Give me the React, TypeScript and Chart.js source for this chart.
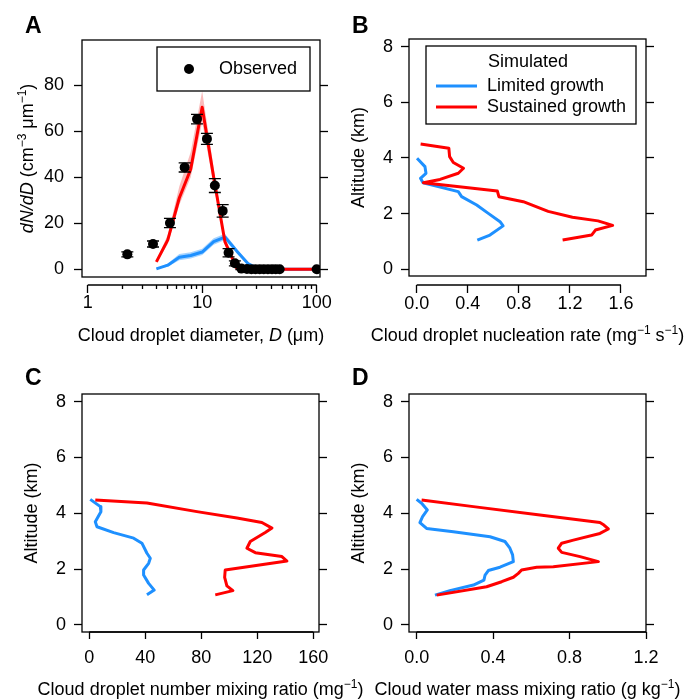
import React, { useEffect, useRef } from 'react';
import { Chart, registerables } from 'chart.js';

Chart.register(...registerables);

const FONT = "'Liberation Sans', Arial, Helvetica, sans-serif";
const PAGE_W = 684;
const PAGE_H = 699;
const RED = '#ff0000';
const BLUE = '#1e90ff';
const PINK = 'rgba(240,50,50,0.33)';
const LIGHT_BLUE = 'rgba(30,144,255,0.4)';
const LW = 1.3;
const W_L = 60;
const W_R = 12;
const H_B = 40;
const CAP = 6;

// ===== Panel A: droplet size distribution =====
const OBS_D = [2.22, 3.72, 5.23, 7.03, 9.01, 11.0, 12.9, 15.1, 17.0, 19.3, 22.0, 24.6, 26.9, 29.2, 31.8, 34.5, 37.5, 40.7, 43.9, 47.5, 100];
const OBS_N = [6.5, 11.0, 20.1, 44.3, 65.3, 56.7, 36.4, 25.4, 7.2, 2.6, 0.3, 0.1, 0, 0, 0, 0, 0, 0, 0, 0, 0];
const OBS_ERR = [1.1, 1.3, 2.0, 2.0, 2.1, 2.4, 3.0, 2.7, 1.8, 1.1, 0.4, 0.2, 0, 0, 0, 0, 0, 0, 0, 0, 0];
const SIM_D = [3.98, 5.01, 6.31, 7.94, 10.0, 12.6, 15.8, 20.0, 25.1, 31.6, 39.8, 50.1, 63.1, 79.4, 100];
const SUS_N = [3.2, 12.8, 31.0, 43.5, 70.5, 40.0, 12.0, 0.5, 0, 0, 0, 0, 0, 0, 0];
const SUS_LO = [2.6, 11.0, 28.0, 40.0, 64.0, 36.5, 10.5, 0.3, 0, 0, 0, 0, 0, 0, 0];
const SUS_HI = [3.8, 15.0, 36.0, 51.0, 77.5, 44.0, 13.5, 0.8, 0, 0, 0, 0, 0, 0, 0];
const LIM_N = [0.2, 1.8, 5.2, 6.0, 7.5, 12.0, 14.0, 8.0, 2.5, 0, 0, 0, 0, 0, 0];
const LIM_LO = [0.1, 1.1, 3.9, 4.7, 6.2, 10.7, 12.7, 7.0, 2.0, 0, 0, 0, 0, 0, 0];
const LIM_HI = [0.3, 2.5, 6.7, 7.4, 8.9, 13.5, 15.4, 9.0, 3.0, 0, 0, 0, 0, 0, 0];
const A_X_TICKS = [1, 10, 100];
const A_X_MINOR = [2, 3, 4, 5, 6, 7, 8, 9, 20, 30, 40, 50, 60, 70, 80, 90];
const A_Y_TICKS = [0, 20, 40, 60, 80];

// ===== Panel B: nucleation rate =====
const B_SUS_X = [0.031, 0.252, 0.258, 0.287, 0.367, 0.326, 0.183, 0.053, 0.632, 0.644, 0.835, 1.03, 1.22, 1.42, 1.535, 1.40, 1.37, 1.143];
const B_SUS_Y = [4.50, 4.35, 4.05, 3.84, 3.63, 3.45, 3.23, 3.11, 2.81, 2.61, 2.43, 2.08, 1.87, 1.74, 1.58, 1.41, 1.23, 1.05];
const B_LIM_X = [0.003, 0.065, 0.073, 0.03, 0.05, 0.326, 0.352, 0.47, 0.561, 0.653, 0.677, 0.574, 0.475];
const B_LIM_Y = [3.99, 3.69, 3.45, 3.27, 3.11, 2.79, 2.61, 2.31, 2.01, 1.71, 1.56, 1.23, 1.05];
const B_X_TICKS = [0, 0.4, 0.8, 1.2, 1.6];
const ALT_TICKS = [0, 2, 4, 6, 8];

// ===== Panel C: droplet number mixing ratio =====
const C_SUS_X = [4.3, 41.2, 76.9, 105.5, 123.3, 130.5, 125.7, 115.0, 112.6, 118.6, 137.6, 141.2, 97.1, 96.7, 98.3, 102.6, 90.0];
const C_SUS_Y = [4.48, 4.37, 4.06, 3.83, 3.67, 3.47, 3.31, 2.99, 2.75, 2.59, 2.45, 2.29, 1.97, 1.71, 1.40, 1.23, 1.08];
const C_LIM_X = [0.7, 7.9, 8.3, 4.3, 5.5, 17.4, 31.7, 37.6, 41.2, 43.6, 42.4, 38.8, 38.8, 42.4, 46.4, 41.2];
const C_LIM_Y = [4.50, 4.24, 4.06, 3.70, 3.52, 3.31, 3.11, 2.93, 2.57, 2.39, 2.21, 1.97, 1.79, 1.49, 1.25, 1.08];
const C_X_TICKS = [0, 40, 80, 120, 160];

// ===== Panel D: cloud water mass mixing ratio =====
const D_SUS_X = [0.026, 0.297, 0.645, 0.959, 0.98, 1.003, 0.959, 0.82, 0.759, 0.741, 0.759, 0.855, 0.951, 0.715, 0.628, 0.549, 0.532, 0.506, 0.445, 0.366, 0.105];
const D_SUS_Y = [4.48, 4.24, 3.94, 3.67, 3.58, 3.44, 3.28, 3.04, 2.93, 2.75, 2.60, 2.45, 2.27, 2.09, 2.07, 1.97, 1.85, 1.71, 1.55, 1.37, 1.07];
const D_LIM_X = [0.0, 0.026, 0.056, 0.031, 0.017, 0.052, 0.192, 0.384, 0.462, 0.488, 0.502, 0.506, 0.436, 0.375, 0.358, 0.352, 0.297, 0.174, 0.096];
const D_LIM_Y = [4.50, 4.36, 4.12, 3.88, 3.67, 3.46, 3.34, 3.16, 2.99, 2.75, 2.51, 2.27, 2.07, 1.95, 1.79, 1.61, 1.43, 1.23, 1.07];
const D_X_TICKS = [0, 0.4, 0.8, 1.2];

type Seg = { t: string; it?: boolean; sup?: boolean };

const pts = (xs: number[], ys: number[]) => xs.map((x, i) => ({ x, y: ys[i] }));

const lineDs = (data: any[], color: string, order: number) => ({
  data, borderColor: color, borderWidth: 3, pointRadius: 0, tension: 0, fill: false, order,
  borderJoinStyle: 'round', xAxisID: 'x', yAxisID: 'y',
});
const bandDs = (data: any[], color: string, fill: any, order: number) => ({
  data, borderWidth: 0, borderColor: 'rgba(0,0,0,0)', pointRadius: 0, backgroundColor: color,
  fill, order, tension: 0, xAxisID: 'x', yAxisID: 'y',
});

function drawRich(ctx: CanvasRenderingContext2D, segs: Seg[], x: number, y: number, rotate: boolean) {
  const size = 18, supSize = 12, rise = 7;
  const fontOf = (s: Seg) => `${s.it ? 'italic ' : ''}${s.sup ? supSize : size}px ${FONT}`;
  let total = 0;
  const widths = segs.map((s) => {
    ctx.font = fontOf(s);
    const w = ctx.measureText(s.t).width;
    total += w;
    return w;
  });
  ctx.save();
  ctx.translate(x, y);
  if (rotate) ctx.rotate(-Math.PI / 2);
  ctx.textAlign = 'left';
  ctx.textBaseline = 'alphabetic';
  ctx.fillStyle = '#000';
  let cx = -total / 2;
  segs.forEach((s, i) => {
    ctx.font = fontOf(s);
    ctx.fillText(s.t, cx, s.sup ? -rise : 0);
    cx += widths[i];
  });
  ctx.restore();
}

const ALT_TITLE: Seg[] = [{ t: 'Altitude (km)' }];

function profileLegend(ctx: CanvasRenderingContext2D, ca: any) {
  const bx = ca.left + 17, by = ca.top + 7;
  ctx.lineWidth = LW;
  ctx.strokeStyle = '#000';
  ctx.strokeRect(bx, by, 210, 78);
  ctx.font = `18px ${FONT}`;
  ctx.fillStyle = '#000';
  ctx.textBaseline = 'middle';
  ctx.textAlign = 'center';
  ctx.fillText('Simulated', bx + 102, by + 16);
  ctx.textAlign = 'left';
  ctx.fillText('Limited growth', bx + 61, by + 40);
  ctx.fillText('Sustained growth', bx + 61, by + 61);
  ctx.lineWidth = 3;
  ctx.strokeStyle = BLUE;
  ctx.beginPath(); ctx.moveTo(bx + 10, by + 40); ctx.lineTo(bx + 51, by + 40); ctx.stroke();
  ctx.strokeStyle = RED;
  ctx.beginPath(); ctx.moveTo(bx + 10, by + 61); ctx.lineTo(bx + 51, by + 61); ctx.stroke();
}

function obsLegend(ctx: CanvasRenderingContext2D, ca: any) {
  const bx = ca.left + 75, by = ca.top + 7;
  ctx.lineWidth = LW;
  ctx.strokeStyle = '#000';
  ctx.strokeRect(bx, by, 153, 44);
  ctx.fillStyle = '#000';
  ctx.beginPath(); ctx.arc(bx + 32, by + 22, 5, 0, Math.PI * 2); ctx.fill();
  ctx.font = `18px ${FONT}`;
  ctx.textBaseline = 'middle';
  ctx.textAlign = 'left';
  ctx.fillText('Observed', bx + 62, by + 22);
}

const fmt1 = (v: number) => v.toFixed(1);
const fmt0 = (v: number) => String(v);

const SPECS: any[] = [
  {
    letter: 'A', letterPos: [25, 33],
    area: { left: 82, top: 40, right: 320, bottom: 285 }, gap: 8,
    xType: 'logarithmic', xMin: 0.892, xMax: 106.9, yMin: -6.83, yMax: 99.7,
    xTicks: A_X_TICKS, xMinor: A_X_MINOR, yTicks: A_Y_TICKS, xFmt: fmt0,
    xTickLen: 8, xMinorLen: 4, yTickLen: 8, xLabelPad: 1, yLabelPad: 10,
    xTitle: [{ t: 'Cloud droplet diameter, ' }, { t: 'D', it: true }, { t: ' (\u03bcm)' }],
    yTitle: [{ t: 'dN/dD', it: true }, { t: ' (cm' }, { t: '\u22123', sup: true }, { t: ' \u03bcm' }, { t: '\u22121', sup: true }, { t: ')' }],
    yTitleOffset: 49, xTitleBaseline: 341,
    legend: obsLegend,
    errors: { x: OBS_D, y: OBS_N, e: OBS_ERR },
    datasets: [
      { data: pts(OBS_D, OBS_N), showLine: false, pointRadius: 5, pointBackgroundColor: '#000', pointBorderWidth: 0, order: 0, xAxisID: 'x', yAxisID: 'y' },
      lineDs(pts(SIM_D, SUS_N), RED, 1),
      lineDs(pts(SIM_D, LIM_N), BLUE, 2),
      bandDs(pts(SIM_D, SUS_HI), PINK, '+1', 3),
      bandDs(pts(SIM_D, SUS_LO), PINK, false, 3),
      bandDs(pts(SIM_D, LIM_HI), LIGHT_BLUE, '+1', 4),
      bandDs(pts(SIM_D, LIM_LO), LIGHT_BLUE, false, 4),
    ],
  },
  {
    letter: 'B', letterPos: [352, 33],
    area: { left: 409, top: 39, right: 646, bottom: 285 }, gap: 9,
    xType: 'linear', xMin: -0.06, xMax: 1.796, yMin: -0.564, yMax: 8.275,
    xTicks: B_X_TICKS, yTicks: ALT_TICKS, xFmt: fmt1,
    xTickLen: 8, yTickLen: 8, xLabelPad: 2, yLabelPad: 8,
    xTitle: [{ t: 'Cloud droplet nucleation rate (mg' }, { t: '\u22121', sup: true }, { t: ' s' }, { t: '\u22121', sup: true }, { t: ')' }],
    yTitle: ALT_TITLE, yTitleOffset: 45, xTitleBaseline: 341,
    legend: profileLegend,
    datasets: [
      lineDs(pts(B_SUS_X, B_SUS_Y), RED, 0),
      lineDs(pts(B_LIM_X, B_LIM_Y), BLUE, 1),
    ],
  },
  {
    letter: 'C', letterPos: [25, 385],
    area: { left: 82, top: 394, right: 319, bottom: 632 }, gap: 0,
    xType: 'linear', xMin: -5.2, xMax: 164.1, yMin: -0.251, yMax: 8.274,
    xTicks: C_X_TICKS, yTicks: ALT_TICKS, xFmt: fmt0,
    xTickLen: 7, yTickLen: 8, xLabelPad: 10, yLabelPad: 8,
    xTitle: [{ t: 'Cloud droplet number mixing ratio (mg' }, { t: '\u22121', sup: true }, { t: ')' }],
    yTitle: ALT_TITLE, yTitleOffset: 45, xTitleBaseline: 694.5,
    datasets: [
      lineDs(pts(C_SUS_X, C_SUS_Y), RED, 0),
      lineDs(pts(C_LIM_X, C_LIM_Y), BLUE, 1),
    ],
  },
  {
    letter: 'D', letterPos: [352, 385],
    area: { left: 409, top: 394, right: 646, bottom: 632 }, gap: 0,
    xType: 'linear', xMin: -0.04, xMax: 1.2, yMin: -0.251, yMax: 8.274,
    xTicks: D_X_TICKS, yTicks: ALT_TICKS, xFmt: fmt1,
    xTickLen: 7, yTickLen: 8, xLabelPad: 10, yLabelPad: 8,
    xTitle: [{ t: 'Cloud water mass mixing ratio (g kg' }, { t: '\u22121', sup: true }, { t: ')' }],
    yTitle: ALT_TITLE, yTitleOffset: 45, xTitleBaseline: 694.5,
    datasets: [
      lineDs(pts(D_SUS_X, D_SUS_Y), RED, 0),
      lineDs(pts(D_LIM_X, D_LIM_Y), BLUE, 1),
    ],
  },
];

function buildConfig(s: any): any {
  const tickFont = { family: FONT, size: 18, lineHeight: 1 };
  const gridTicks = (len: number) => ({
    display: true, drawOnChartArea: false, drawTicks: true, tickLength: len, tickColor: '#000', tickWidth: LW,
  });
  const fixTicks = (vals: number[]) => (scale: any) => { scale.ticks = vals.map((v) => ({ value: v })); };
  const scales: any = {
    x: {
      type: s.xType, position: 'bottom', min: s.xMin, max: s.xMax, bounds: 'data', weight: 1,
      afterBuildTicks: fixTicks(s.xTicks),
      afterFit: (sc: any) => { sc.height = H_B; },
      ticks: {
        autoSkip: false, maxRotation: 0, minRotation: 0, padding: s.xLabelPad, color: '#000', font: tickFont,
        callback: (v: any) => s.xFmt(Number(v)),
      },
      grid: gridTicks(s.xTickLen),
      border: { display: false },
    },
    y: {
      type: 'linear', position: 'left', min: s.yMin, max: s.yMax, bounds: 'data', weight: 1,
      afterBuildTicks: fixTicks(s.yTicks),
      afterFit: (sc: any) => { sc.width = W_L; },
      ticks: { autoSkip: false, padding: s.yLabelPad, color: '#000', font: tickFont, callback: (v: any) => String(v) },
      grid: gridTicks(s.yTickLen),
      border: { display: false },
    },
    yR: {
      type: 'linear', position: 'right', min: s.yMin, max: s.yMax, bounds: 'data', weight: 1,
      afterBuildTicks: fixTicks(s.yTicks),
      afterFit: (sc: any) => { sc.width = W_R; },
      ticks: { display: false },
      grid: gridTicks(s.yTickLen),
      border: { display: false },
    },
  };
  if (s.xMinor) {
    scales.xMinor = {
      type: s.xType, position: 'bottom', min: s.xMin, max: s.xMax, bounds: 'data', weight: 0,
      afterBuildTicks: fixTicks(s.xMinor),
      afterFit: (sc: any) => { sc.height = 0; },
      ticks: { display: false },
      grid: gridTicks(s.xMinorLen),
      border: { display: false },
    };
  }
  const decor = {
    id: 'decor' + s.letter,
    afterDatasetsDraw(chart: any) {
      if (!s.errors) return;
      const { ctx } = chart;
      const xs = chart.scales.x, ys = chart.scales.y;
      ctx.save();
      ctx.strokeStyle = '#000';
      ctx.lineWidth = LW;
      s.errors.x.forEach((xv: number, i: number) => {
        const e = s.errors.e[i];
        if (!e) return;
        const px = xs.getPixelForValue(xv);
        const lo = ys.getPixelForValue(s.errors.y[i] - e);
        const hi = ys.getPixelForValue(s.errors.y[i] + e);
        ctx.beginPath();
        ctx.moveTo(px, lo); ctx.lineTo(px, hi);
        ctx.moveTo(px - CAP, lo); ctx.lineTo(px + CAP, lo);
        ctx.moveTo(px - CAP, hi); ctx.lineTo(px + CAP, hi);
        ctx.stroke();
      });
      ctx.restore();
    },
    afterDraw(chart: any) {
      const { ctx, chartArea: ca } = chart;
      const xs = chart.scales.x;
      ctx.save();
      ctx.strokeStyle = '#000';
      ctx.fillStyle = '#000';
      ctx.lineWidth = LW;
      const boxBottom = ca.bottom - s.gap;
      ctx.strokeRect(ca.left, ca.top, ca.right - ca.left, boxBottom - ca.top);
      const a = xs.getPixelForValue(s.xTicks[0]);
      const b = xs.getPixelForValue(s.xTicks[s.xTicks.length - 1]);
      ctx.beginPath(); ctx.moveTo(a, ca.bottom); ctx.lineTo(b, ca.bottom); ctx.stroke();
      ctx.font = `bold 23px ${FONT}`;
      ctx.textBaseline = 'alphabetic';
      ctx.textAlign = 'left';
      ctx.fillText(s.letter, s.letterPos[0], s.letterPos[1]);
      drawRich(ctx, s.xTitle, (ca.left + ca.right) / 2, s.xTitleBaseline, false);
      drawRich(ctx, s.yTitle, ca.left - s.yTitleOffset, (ca.top + boxBottom) / 2, true);
      if (s.legend) s.legend(ctx, ca);
      ctx.restore();
    },
  };
  return {
    type: 'line',
    data: { datasets: s.datasets },
    options: {
      responsive: false,
      animation: false,
      events: [],
      layout: {
        autoPadding: false,
        padding: {
          left: s.area.left - W_L,
          right: PAGE_W - s.area.right - W_R,
          top: s.area.top,
          bottom: PAGE_H - s.area.bottom - H_B,
        },
      },
      plugins: { legend: { display: false }, tooltip: { enabled: false }, filler: { propagate: false } },
      scales,
    },
    plugins: [decor],
  };
}

function Panel({ spec }: { spec: any }) {
  const ref = useRef<HTMLCanvasElement>(null);
  useEffect(() => {
    const chart = new Chart(ref.current as HTMLCanvasElement, buildConfig(spec));
    return () => chart.destroy();
  }, [spec]);
  return (
    <canvas
      ref={ref}
      width={PAGE_W}
      height={PAGE_H}
      style={{ position: 'absolute', left: 0, top: 0, width: PAGE_W, height: PAGE_H }}
    />
  );
}

export default function App() {
  return (
    <div style={{ position: 'absolute', left: 0, top: 0, width: PAGE_W, height: PAGE_H, background: '#fff' }}>
      {SPECS.map((s) => (
        <Panel key={s.letter} spec={s} />
      ))}
    </div>
  );
}
